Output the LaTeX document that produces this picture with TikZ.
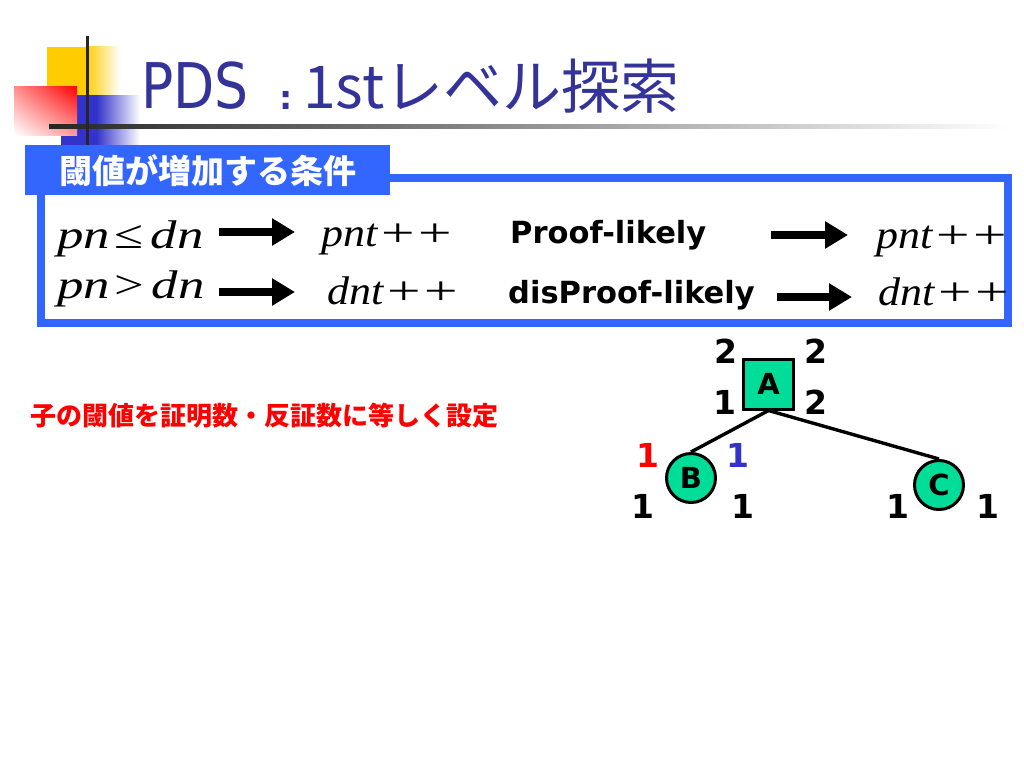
\documentclass[tikz,border=0pt]{standalone}
\usepackage{fontspec}
\usepackage{graphicx}
\usetikzlibrary{arrows.meta,shadings}
\newfontfamily\tahfont[FakeStretch=0.85]{DejaVu Sans}
\newfontfamily\verdfont{DejaVu Sans}
\newfontfamily\jpfont{Noto Sans CJK JP}
\newfontfamily\tmsfont{Liberation Serif}
\definecolor{titleblue}{HTML}{333399}
\definecolor{boxblue}{HTML}{3366FF}
\definecolor{decoyellow}{HTML}{FFCC00}
\definecolor{decoblue}{HTML}{3333CC}
\definecolor{nodegreen}{HTML}{00DD99}
\definecolor{lblblue}{HTML}{3333CC}
\definecolor{lblred}{HTML}{FF0000}
\newcommand{\wideplus}{\scalebox{1.35}[1]{+}}
\begin{document}
\begin{tikzpicture}[x=1pt,y=-1pt,
  bigarrow/.style={line width=7.5pt,-{Triangle[length=23pt,width=26pt]}},
  mathtxt/.style={font=\fontsize{40}{42}\selectfont\tmsfont, inner sep=0pt, anchor=base west, xscale=1.1},
  condtxt/.style={mathtxt, xscale=1.2},
  boldsans/.style={font=\fontsize{30.5}{33}\selectfont\verdfont\bfseries, inner sep=0pt, anchor=base west},
  numlbl/.style={font=\fontsize{33}{36}\selectfont\verdfont\bfseries, inner sep=0pt},
  treenode/.style={draw, line width=3pt, fill=nodegreen, inner sep=0pt, font=\fontsize{29}{31}\selectfont\verdfont\bfseries},
  edgeline/.style={line width=3.4pt}]
\useasboundingbox (0,0) rectangle (1024,768);
\fill[white] (0,0) rectangle (1024,768);
% decoration
\fill[decoyellow] (47,47) rectangle (86,95);
\shade[left color=decoyellow, right color=white] (85.5,47) rectangle (120,95);
\fill[decoblue] (61,95) rectangle (97,145);
\shade[left color=decoblue, right color=white] (96.5,95) rectangle (140,145);
\shade[upper right=red, upper left=red!45!white, lower right=red!40!white, lower left=white] (14,86) rectangle (77,135);
\shade[left color=black!85, right color=white] (49,124) rectangle (1010,128);
\draw[line width=3pt, black!85] (87,36) -- (87,146);
% title
\node[font=\fontsize{63}{66}\selectfont\tahfont, text=titleblue, anchor=base west, inner sep=0pt] (t1) at (141,108) {PDS};
\node[font=\fontsize{33}{35}\selectfont\verdfont\bfseries, text=titleblue, anchor=base, inner sep=0pt] (t2) at (286,109) {:};
\node[font=\fontsize{59}{62}\selectfont\jpfont, text=titleblue, anchor=base west, inner sep=0pt] (t3) at (303,108) {1stレベル探索};
% box and tab
\draw[boxblue, line width=8pt] (41,178) rectangle (1008,323);
\node[fill=boxblue, minimum width=365pt, minimum height=50pt, anchor=north west, inner sep=0pt, text=white, font=\fontsize{33}{36}\selectfont\jpfont\bfseries] (tab) at (25,145) {閾値が増加する条件};
% rows
\node[condtxt] (m1) at (57,248) {{\itshape pn}\kern3pt≤\kern6pt{\itshape dn}};
\node[condtxt] (m2) at (57,298) {{\itshape pn}\kern3pt>\kern6pt{\itshape dn}};
\node[mathtxt] (r1) at (321,246) {{\itshape pnt}\kern4pt\wideplus\kern3pt\wideplus};
\node[mathtxt] (r2) at (327,304) {{\itshape dnt}\kern4pt\wideplus\kern3pt\wideplus};
\node[boldsans] (p1) at (510,243) {Proof-likely};
\node[boldsans] (p2) at (508,303) {disProof-likely};
\node[mathtxt] (s1) at (876,248) {{\itshape pnt}\kern4pt\wideplus\kern3pt\wideplus};
\node[mathtxt] (s2) at (878,305) {{\itshape dnt}\kern4pt\wideplus\kern3pt\wideplus};
\coordinate (a1s) at (219,232); \coordinate (a1e) at (295,232);
\coordinate (a2s) at (219,292); \coordinate (a2e) at (295,292);
\coordinate (a3s) at (771,235); \coordinate (a3e) at (848,235);
\coordinate (a4s) at (777,297); \coordinate (a4e) at (852,297);
\draw[bigarrow] (a1s) -- (a1e);
\draw[bigarrow] (a2s) -- (a2e);
\draw[bigarrow] (a3s) -- (a3e);
\draw[bigarrow] (a4s) -- (a4e);
% note
\node[font=\fontsize{26}{28}\selectfont\jpfont\bfseries, text=lblred, anchor=west, inner sep=0pt] (note) at (30,416) {子の閾値を証明数・反証数に等しく設定};
% tree
\node[treenode, rectangle, minimum size=50pt] (A) at (768.5,384) {A};
\node[treenode, circle, minimum size=49pt] (B) at (691,478) {B};
\node[treenode, circle, minimum size=49pt] (C) at (939,485) {C};
\draw[edgeline] (A.south) -- (B.north);
\draw[edgeline] (A.south) -- (C.north);
\node[numlbl] (la1) at (726,351) {2};
\node[numlbl] (la2) at (816,351) {2};
\node[numlbl] (la3) at (725,402) {1};
\node[numlbl] (la4) at (816,402) {2};
\node[numlbl, text=lblred] (lb1) at (648,455) {1};
\node[numlbl, text=lblblue] (lb2) at (738,455) {1};
\node[numlbl] (lb3) at (643,506) {1};
\node[numlbl] (lb4) at (743,506) {1};
\node[numlbl] (lc1) at (898,506) {1};
\node[numlbl] (lc2) at (988,506) {1};
\end{tikzpicture}
\end{document}
